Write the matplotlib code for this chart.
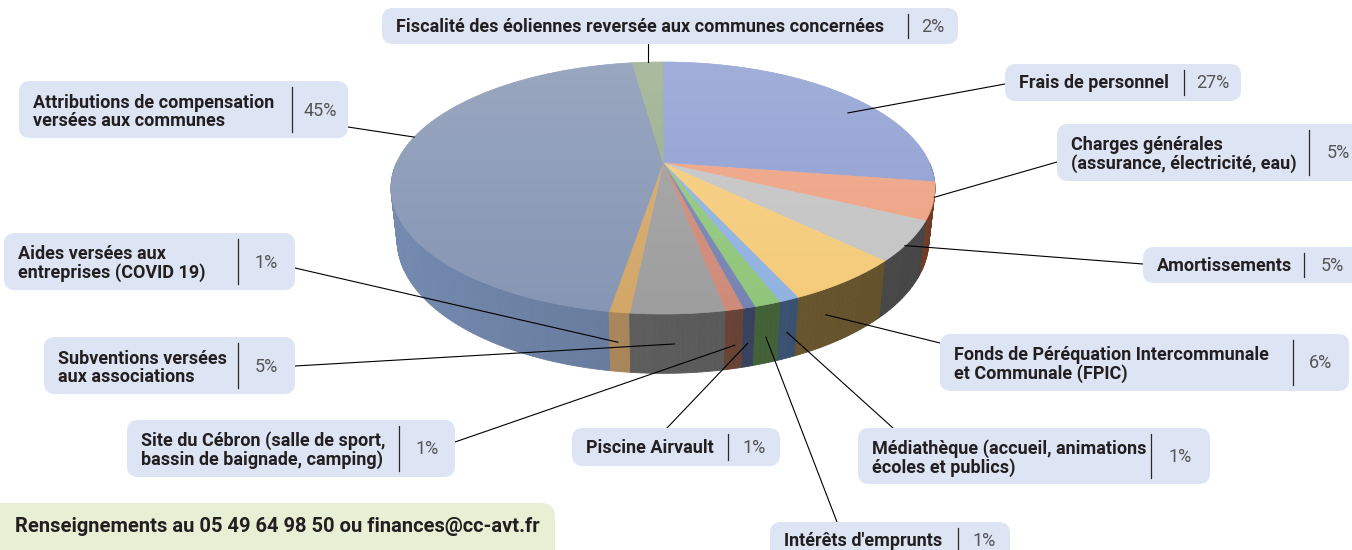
import numpy as np
import matplotlib
matplotlib.use("Agg")
import matplotlib.pyplot as plt
import matplotlib.colors as mcolors
from matplotlib.patches import Polygon, FancyBboxPatch

# Slices, clockwise from 12 o'clock
labels = [
    "Frais de personnel",
    "Charges générales\n(assurance, électricité, eau)",
    "Amortissements",
    "Fonds de Péréquation Intercommunale\net Communale (FPIC)",
    "Médiathèque (accueil, animations\nécoles et publics)",
    "Intérêts d'emprunts",
    "Piscine Airvault",
    "Site du Cébron (salle de sport,\nbassin de baignade, camping)",
    "Subventions versées\naux associations",
    "Aides versées aux\nentreprises (COVID 19)",
    "Attributions de compensation\nversées aux communes",
    "Fiscalité des éoliennes reversée aux communes concernées",
]
values = [27.4, 4.8, 5.1, 5.9, 1.0, 1.3, 0.6, 0.9, 4.6, 1.0, 45.2, 2.2]
top_colors = ["#8F9FD2", "#EEA283", "#C4C4C4", "#F5CB7A", "#8FB2E0", "#90C67A",
              "#7684B4", "#CF8B79", "#9E9E9E", "#D3A769", "#8696B4", "#9BAE8C"]
side_colors = ["#5A6A9E", "#83462E", "#505050", "#6E5B30", "#3D5677", "#46663A",
               "#3A4462", "#6B4538", "#5C5C5C", "#A6835A", "#66799A", "#5F6E55"]
footer = "Renseignements au 05 49 64 98 50 ou finances@cc-avt.fr"

# label boxes in pixels: x0, y0, x1, y1, separator x, where the leader leaves the box
boxes = [
    (1005, 64, 1241, 101, 1184, (1005, 84)),
    (1057, 124, 1367, 181, 1309, (1057, 162)),
    (1143, 247, 1360, 283, 1304, (1143, 264)),
    (940, 334, 1349, 391, 1293, (940, 343)),
    (858, 428, 1210, 484, 1151, (893, 428)),
    (770, 522, 1010, 560, 958, (837, 522)),
    (572, 428, 780, 466, 728, (667, 428)),
    (127, 420, 455, 477, 399, (455, 442)),
    (44, 337, 295, 394, 238, (295, 366)),
    (4, 233, 295, 290, 238, (295, 268)),
    (19, 81, 348, 138, 292, (348, 127)),
    (382, 8, 958, 44, 908, None),
]
# where the leader touches the slice: fraction along slice, radius, depth down the side
anchors = [(0.6, 0.88, 0), (0.4, 1, 0), (0.6, 1, 0), (0.7, 1, 0.45), (0.5, 1, 0.55),
           (0.5, 1, 0.55), (0.5, 1, 0.6), (0.4, 1, 0.6), (0.53, 1, 0.5), (0.6, 1, 0.5),
           (0.575, 1, 0), (0.5, 1, 0)]

# perspective camera for the 3d pie
CX, CY, F = 663, 163, 1197
DIST = 4.49
ELEV = np.radians(27)
THICK = 0.22
se, ce = np.sin(ELEV), np.cos(ELEV)


def project(x, y, z):
    depth = DIST + y * ce - z * se
    return CX + F * x / depth, CY - F * (y * se + z * ce) / depth


fig = plt.figure(figsize=(13.52, 5.5), dpi=100)
ax = fig.add_axes([0, 0, 1, 1])
ax.axis("off")

fracs = np.array(values) / np.sum(values)
starts = 90 - 360 * np.concatenate([[0], np.cumsum(fracs)[:-1]])
ends = starts - 360 * fracs

# side wall, far pieces first
quads = []
for i in range(len(values)):
    a, b = min(starts[i], 0), max(ends[i], -180)
    if a <= b:
        continue
    ts = np.radians(np.linspace(a, b, max(2, int(a - b) + 2)))
    for t0, t1 in zip(ts[:-1], ts[1:]):
        pts = [project(np.cos(t0), np.sin(t0), 0), project(np.cos(t1), np.sin(t1), 0),
               project(np.cos(t1), np.sin(t1), -THICK), project(np.cos(t0), np.sin(t0), -THICK)]
        tm = (t0 + t1) / 2
        col = np.clip(np.array(mcolors.to_rgb(side_colors[i])) * (1 - 0.15 * np.cos(tm)), 0, 1)
        quads.append((np.sin(tm), pts, col))
quads.sort(key=lambda q: -q[0])
for _, pts, col in quads:
    ax.add_patch(Polygon(pts, closed=True, fc=col, ec=col, lw=0.6, zorder=2))

# top face
for i in range(len(values)):
    ts = np.radians(np.linspace(starts[i], ends[i], max(3, int(abs(starts[i] - ends[i]) * 2))))
    pts = [project(0, 0, 0)] + [project(np.cos(t), np.sin(t), 0) for t in ts]
    ax.add_patch(Polygon(pts, closed=True, fc=top_colors[i], ec=top_colors[i], lw=0.5, zorder=3))

# soft light on the top face
rim = np.array([project(np.cos(t), np.sin(t), 0) for t in np.radians(np.arange(0, 361))])
clip = Polygon(rim, closed=True, fc="none", ec="none")
ax.add_patch(clip)
grad = np.ones((100, 1, 4))
grad[:, 0, 3] = np.linspace(0.16, 0, 100)
im = ax.imshow(grad, extent=(rim[:, 0].min(), rim[:, 0].max(), rim[:, 1].max(), rim[:, 1].min()),
               aspect="auto", zorder=3.5, interpolation="bilinear")
im.set_clip_path(clip)

# leaders, boxes, labels
for i, (box, anc) in enumerate(zip(boxes, anchors)):
    x0, y0, x1, y1, xs, start = box
    fr, r, zf = anc
    t = np.radians(starts[i] - fr * (starts[i] - ends[i]))
    px, py = project(r * np.cos(t), r * np.sin(t), -zf * THICK)
    if start is None:
        start = (px, y1)
    ax.plot([start[0], px], [start[1], py], color="black", lw=0.8, zorder=4)

    ax.add_patch(FancyBboxPatch((x0, y0), x1 - x0, y1 - y0, boxstyle="round,pad=0,rounding_size=11",
                                fc="#DDE4F4", ec="none", zorder=5))
    yc = (y0 + y1) / 2 + 1 if y1 <= 550 else 541
    ty = yc + 1 if "\n" in labels[i] else yc
    ax.text(x0 + 14, ty, labels[i], ha="left", va="center", fontsize=13, family="Roboto",
            weight="semibold", color="#231F20", linespacing=1.0, zorder=6)
    ax.plot([xs, xs], [y0 + 6, min(y1, 560) - 6], color="#2A2A2A", lw=0.9, zorder=6)
    ax.text((xs + x1) / 2, yc, f"{values[i]:.0f}%", ha="center", va="center", fontsize=13,
            family="Roboto", weight="normal", color="#555555", zorder=6)

# contact footer
ax.add_patch(FancyBboxPatch((-30, 503), 585, 70, boxstyle="round,pad=0,rounding_size=14",
                            fc="#E8EFD5", ec="none", zorder=5))
ax.text(15, 527, footer, ha="left", va="center", fontsize=14.5, family="Roboto",
        weight="semibold", color="#231F20", zorder=6)

ax.set_xlim(0, 1352)
ax.set_ylim(550, 0)
fig.savefig("out.png", dpi=100)
